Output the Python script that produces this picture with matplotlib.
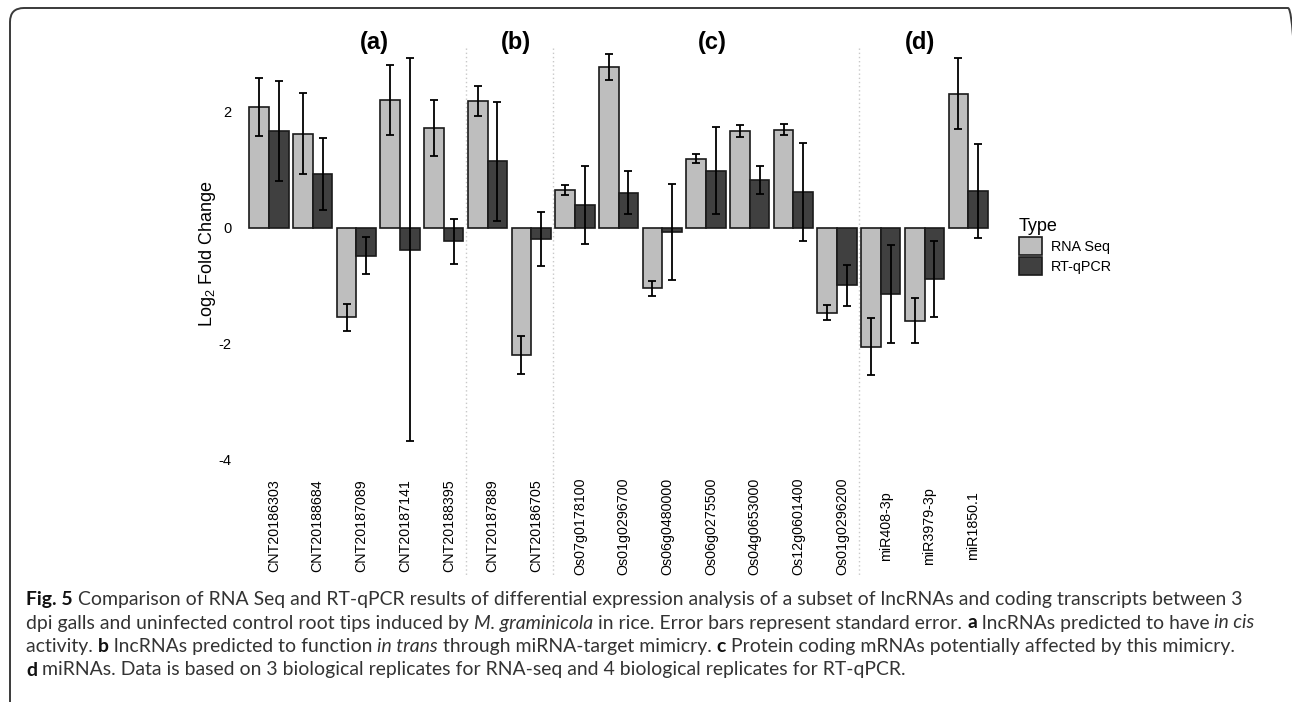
import matplotlib
matplotlib.use("Agg")
import matplotlib.pyplot as plt
import numpy as np
from matplotlib.patches import FancyBboxPatch, Patch
from matplotlib.transforms import blended_transform_factory, IdentityTransform, offset_copy

plt.rcParams['font.family'] = ['Liberation Sans', 'DejaVu Sans']
plt.rcParams['mathtext.fontset'] = 'custom'
plt.rcParams['mathtext.rm'] = 'Liberation Sans'
plt.rcParams['mathtext.it'] = 'Liberation Sans:italic'
plt.rcParams['mathtext.bf'] = 'Liberation Sans:bold'

# --- data ---
genes = ["CNT20186303", "CNT20188684", "CNT20187089", "CNT20187141", "CNT20188395",
         "CNT20187889", "CNT20186705",
         "Os07g0178100", "Os01g0296700", "Os06g0480000", "Os06g0275500",
         "Os04g0653000", "Os12g0601400", "Os01g0296200",
         "miR408-3p", "miR3979-3p", "miR1850.1"]
group_names = ["(a)", "(b)", "(c)", "(d)"]
group_sizes = [5, 2, 7, 3]

rna_seq = [2.08, 1.62, -1.55, 2.20, 1.72, 2.18, -2.20, 0.65, 2.77, -1.05, 1.19,
           1.67, 1.69, -1.47, -2.06, -1.61, 2.31]
rna_se = [0.50, 0.70, 0.23, 0.61, 0.49, 0.26, 0.33, 0.09, 0.22, 0.13, 0.08,
          0.10, 0.10, 0.13, 0.49, 0.39, 0.61]
qpcr = [1.67, 0.93, -0.49, -0.38, -0.24, 1.14, -0.20, 0.39, 0.60, -0.08, 0.98,
        0.82, 0.61, -1.00, -1.15, -0.89, 0.63]
qpcr_se = [0.86, 0.62, 0.32, 3.30, 0.39, 1.02, 0.47, 0.68, 0.37, 0.83, 0.75,
           0.25, 0.85, 0.36, 0.85, 0.65, 0.81]
yticks = [-4, -2, 0, 2]

light = "#bebebe"
dark = "#404040"

W, H = 1292, 702
fig = plt.figure(figsize=(W / 100, H / 100), dpi=100)

# axes placed in pixel terms
x0_px, pitch = 269.0, 43.7
y0_px, unit = 227.5, 57.9
xlim = (-0.6, 16.6)
ylim = (-4.2, 3.3)
left = x0_px + xlim[0] * pitch
right = x0_px + xlim[1] * pitch
top = y0_px - ylim[1] * unit
bottom = y0_px - ylim[0] * unit
ax = fig.add_axes([left / W, 1 - bottom / H, (right - left) / W, (bottom - top) / H])

x = np.arange(len(genes))
bw = 0.45
ekw = dict(ecolor="black", elinewidth=1.3, capsize=2.6, capthick=1.3)
ax.bar(x - bw / 2, rna_seq, bw, color=light, edgecolor="#1a1a1a", linewidth=1.2,
       yerr=rna_se, error_kw=ekw, label="RNA Seq", zorder=2)
ax.bar(x + bw / 2, qpcr, bw, color=dark, edgecolor="#1a1a1a", linewidth=1.2,
       yerr=qpcr_se, error_kw=ekw, label="RT-qPCR", zorder=2)

ax.set_xlim(*xlim)
ax.set_ylim(*ylim)
for s in ax.spines.values():
    s.set_visible(False)
ax.set_xticks([])
ax.set_yticks(yticks)
ax.set_yticklabels([str(t) for t in yticks], fontsize=10.5)
ax.tick_params(axis="y", length=0, pad=8)
ax.patch.set_alpha(0)

# group separators and labels
bt = blended_transform_factory(ax.transData, fig.transFigure)
edges = np.cumsum(group_sizes)[:-1] - 0.5
for e in edges:
    ax.plot([e, e], [1 - 48 / H, 1 - 577 / H], transform=bt, color="#c8c8c8",
            lw=1, ls=(0, (1, 2)), clip_on=False, zorder=0)
label_x = [2.4, 5.65, 10.15, 14.9]
for lx, name in zip(label_x, group_names):
    ax.text(lx, 1 - 42 / H, name, transform=bt, ha="center", va="center",
            fontsize=17, fontweight="bold")

# x labels
tt = offset_copy(bt, fig=fig, x=5, y=0, units="dots")
for i, g in enumerate(genes):
    ax.text(i, 1 - 526 / H, g, transform=tt, rotation=90, ha="center", va="center",
            fontsize=10.3)

fig.text(207 / W, 1 - 253.5 / H, r"Log$_{2}$ Fold Change", rotation=90,
         ha="center", va="center", fontsize=13)

handles = [Patch(facecolor=light, edgecolor="#1a1a1a", lw=1.2),
           Patch(facecolor=dark, edgecolor="#1a1a1a", lw=1.2)]
fig.legend(handles, ["RNA Seq", "RT-qPCR"], title="Type", loc="upper left",
           bbox_to_anchor=(1019 / W, 1 - 218 / H), frameon=False, fontsize=10.4,
           title_fontsize=13, handlelength=1.6, handleheight=1.5, handletextpad=0.6,
           labelspacing=0.15, borderpad=0, borderaxespad=0, alignment="left")

# border
fig.add_artist(FancyBboxPatch((10, -20), 1292, 714, boxstyle="round,pad=0,rounding_size=14",
                              transform=IdentityTransform(), fill=False,
                              edgecolor="#3a3a3a", lw=1.4))

# caption
cap_font = ["Lato", "DejaVu Sans"]
caption = [
    [("Fig. 5", "b"), (" Comparison of RNA Seq and RT-qPCR results of differential expression "
                       "analysis of a subset of lncRNAs and coding transcripts between 3", "n")],
    [("dpi galls and uninfected control root tips induced by ", "n"), ("M. graminicola", "i"),
     (" in rice. Error bars represent standard error. ", "n"), ("a", "b"),
     (" lncRNAs predicted to have ", "n"), ("in cis", "i")],
    [("activity. ", "n"), ("b", "b"), (" lncRNAs predicted to function ", "n"), ("in trans", "i"),
     (" through miRNA-target mimicry. ", "n"), ("c", "b"),
     (" Protein coding mRNAs potentially affected by this mimicry.", "n")],
    [("d", "b"), (" miRNAs. Data is based on 3 biological replicates for RNA-seq and 4 "
                  "biological replicates for RT-qPCR.", "n")],
]
renderer = fig.canvas.get_renderer()


def draw_line(segs, xpx, ypx, size):
    xx = xpx
    for txt, st in segs:
        t = fig.text(xx / W, 1 - ypx / H, txt, fontsize=size, family=cap_font,
                     fontweight="bold" if st == "b" else "normal",
                     fontstyle="italic" if st == "i" else "normal",
                     color="#111111" if st == "b" else "#333333", va="baseline")
        xx = t.get_window_extent(renderer).x1
    return xx


probe = draw_line(caption[0], 0, -100, 10)
for t in list(fig.texts)[-2:]:
    t.remove()
cap_size = 10 * (1245 - 26) / probe
for k, line in enumerate(caption):
    draw_line(line, 26, 605 + k * 23.5, cap_size)

fig.savefig("out.png", dpi=100)
